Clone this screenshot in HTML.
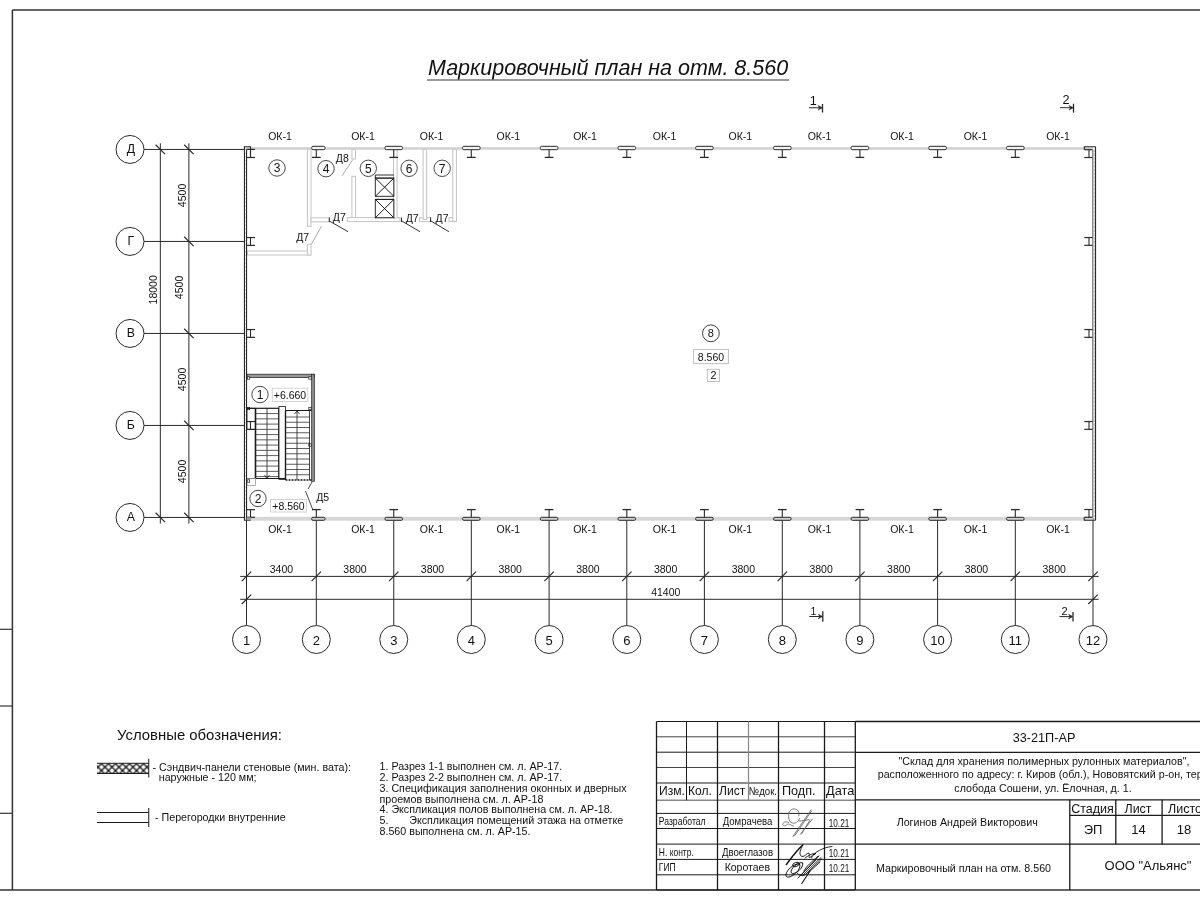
<!DOCTYPE html>
<html><head><meta charset="utf-8"><style>
html,body{margin:0;padding:0;background:#fff;width:1200px;height:900px;overflow:hidden}
svg{display:block;will-change:transform}
text{font-family:"Liberation Sans", sans-serif;fill:#111}
</style></head><body>
<svg width="1200" height="900" viewBox="0 0 1200 900">
<rect x="307.40" y="149.50" width="3.6" height="76.80" fill="#fff" stroke="#c4c4c4" stroke-width="1"/>
<rect x="311.00" y="217.80" width="18.30" height="4" fill="#fff" stroke="#c4c4c4" stroke-width="1"/>
<rect x="351.90" y="149.50" width="3.6" height="9.50" fill="#fff" stroke="#c4c4c4" stroke-width="1"/>
<rect x="351.90" y="176.30" width="3.6" height="43.50" fill="#fff" stroke="#c4c4c4" stroke-width="1"/>
<rect x="347.30" y="217.60" width="52.70" height="4" fill="#fff" stroke="#c4c4c4" stroke-width="1"/>
<rect x="393.50" y="149.50" width="3.6" height="68.50" fill="#fff" stroke="#c4c4c4" stroke-width="1"/>
<rect x="419.40" y="217.60" width="11.20" height="4" fill="#fff" stroke="#c4c4c4" stroke-width="1"/>
<rect x="423.10" y="149.50" width="3.6" height="70.10" fill="#fff" stroke="#c4c4c4" stroke-width="1"/>
<rect x="449.00" y="217.60" width="7.40" height="4" fill="#fff" stroke="#c4c4c4" stroke-width="1"/>
<rect x="452.80" y="149.50" width="3.6" height="72.00" fill="#fff" stroke="#c4c4c4" stroke-width="1"/>
<rect x="247.50" y="251.00" width="63.20" height="4" fill="#fff" stroke="#c4c4c4" stroke-width="1"/>
<rect x="307.40" y="244.30" width="3.6" height="10.70" fill="#fff" stroke="#c4c4c4" stroke-width="1"/>
<line x1="329.30" y1="217.50" x2="329.30" y2="222.00" stroke="#1a1a1a" stroke-width="0.9"/>
<line x1="401.50" y1="217.50" x2="401.50" y2="222.00" stroke="#1a1a1a" stroke-width="0.9"/>
<line x1="430.60" y1="217.50" x2="430.60" y2="222.00" stroke="#1a1a1a" stroke-width="0.9"/>
<line x1="329.30" y1="221.00" x2="348.00" y2="231.70" stroke="#1a1a1a" stroke-width="0.9"/>
<line x1="401.00" y1="220.50" x2="420.00" y2="231.70" stroke="#1a1a1a" stroke-width="0.9"/>
<line x1="430.00" y1="220.50" x2="448.90" y2="231.70" stroke="#1a1a1a" stroke-width="0.9"/>
<line x1="342.00" y1="175.70" x2="352.70" y2="159.70" stroke="#888" stroke-width="0.7"/>
<line x1="311.30" y1="244.30" x2="321.60" y2="226.00" stroke="#888" stroke-width="0.7"/>
<text x="339.30" y="221.00" font-size="10.5" text-anchor="middle" >Д7</text>
<text x="412.20" y="221.70" font-size="10.5" text-anchor="middle" >Д7</text>
<text x="442.00" y="221.70" font-size="10.5" text-anchor="middle" >Д7</text>
<text x="342.30" y="162.30" font-size="10.5" text-anchor="middle" >Д8</text>
<text x="302.70" y="241.00" font-size="10.5" text-anchor="middle" >Д7</text>
<circle cx="277.00" cy="168.00" r="8.2" fill="none" stroke="#1a1a1a" stroke-width="0.8"/>
<text x="277.00" y="172.20" font-size="12" text-anchor="middle" >3</text>
<circle cx="326.00" cy="168.70" r="8.2" fill="none" stroke="#1a1a1a" stroke-width="0.8"/>
<text x="326.00" y="172.90" font-size="12" text-anchor="middle" >4</text>
<circle cx="368.30" cy="168.30" r="8.2" fill="none" stroke="#1a1a1a" stroke-width="0.8"/>
<text x="368.30" y="172.50" font-size="12" text-anchor="middle" >5</text>
<circle cx="409.10" cy="168.30" r="8.2" fill="none" stroke="#1a1a1a" stroke-width="0.8"/>
<text x="409.10" y="172.50" font-size="12" text-anchor="middle" >6</text>
<circle cx="442.20" cy="168.30" r="8.2" fill="none" stroke="#1a1a1a" stroke-width="0.8"/>
<text x="442.20" y="172.50" font-size="12" text-anchor="middle" >7</text>
<line x1="375.30" y1="175.00" x2="393.90" y2="175.00" stroke="#1a1a1a" stroke-width="0.9"/>
<line x1="375.30" y1="178.10" x2="393.90" y2="178.10" stroke="#1a1a1a" stroke-width="0.9"/>
<rect x="375.3" y="178.1" width="18.6" height="18.2" fill="none" stroke="#1a1a1a" stroke-width="0.9"/>
<line x1="375.30" y1="178.10" x2="393.90" y2="196.30" stroke="#1a1a1a" stroke-width="1.0"/>
<line x1="393.90" y1="178.10" x2="375.30" y2="196.30" stroke="#1a1a1a" stroke-width="1.0"/>
<line x1="375.30" y1="199.40" x2="393.90" y2="199.40" stroke="#1a1a1a" stroke-width="0.9"/>
<rect x="375.3" y="199.4" width="18.6" height="18.4" fill="none" stroke="#1a1a1a" stroke-width="0.9"/>
<line x1="375.30" y1="199.40" x2="393.90" y2="217.80" stroke="#1a1a1a" stroke-width="1.0"/>
<line x1="393.90" y1="199.40" x2="375.30" y2="217.80" stroke="#1a1a1a" stroke-width="1.0"/>
<line x1="375.30" y1="175.00" x2="375.30" y2="178.10" stroke="#1a1a1a" stroke-width="0.9"/>
<rect x="247" y="374.2" width="67.5" height="3.3" fill="#999" stroke="#1a1a1a" stroke-width="0.7"/>
<rect x="311.5" y="374.2" width="3" height="107.3" fill="#8a8a8a" stroke="#1a1a1a" stroke-width="0.6"/>
<rect x="247.30" y="376.80" width="2.4" height="2.4" fill="#fff" stroke="#1a1a1a" stroke-width="0.7"/>
<rect x="308.80" y="376.80" width="2.4" height="2.4" fill="#fff" stroke="#1a1a1a" stroke-width="0.7"/>
<rect x="247.30" y="407.30" width="2.4" height="2.4" fill="#fff" stroke="#1a1a1a" stroke-width="0.7"/>
<rect x="308.80" y="407.30" width="2.4" height="2.4" fill="#fff" stroke="#1a1a1a" stroke-width="0.7"/>
<rect x="308.80" y="443.80" width="2.4" height="2.4" fill="#fff" stroke="#1a1a1a" stroke-width="0.7"/>
<rect x="247.30" y="479.80" width="2.4" height="2.4" fill="#fff" stroke="#1a1a1a" stroke-width="0.7"/>
<circle cx="260.00" cy="394.50" r="8.2" fill="none" stroke="#1a1a1a" stroke-width="0.8"/>
<text x="260.00" y="398.70" font-size="12" text-anchor="middle" >1</text>
<rect x="272.2" y="388.2" width="35.6" height="13.3" fill="none" stroke="#c8c8c8" stroke-width="0.8"/>
<text x="290.00" y="398.80" font-size="10.5" text-anchor="middle" >+6.660</text>
<line x1="247.00" y1="408.30" x2="279.00" y2="408.30" stroke="#1a1a1a" stroke-width="1.2"/>
<line x1="285.50" y1="410.50" x2="311.50" y2="410.50" stroke="#1a1a1a" stroke-width="1.0"/>
<line x1="255.50" y1="408.30" x2="255.50" y2="478.50" stroke="#1a1a1a" stroke-width="1.6"/>
<line x1="279.00" y1="408.30" x2="279.00" y2="478.50" stroke="#1a1a1a" stroke-width="1.6"/>
<line x1="255.50" y1="413.60" x2="279.00" y2="413.60" stroke="#333" stroke-width="0.8"/>
<line x1="255.50" y1="418.85" x2="279.00" y2="418.85" stroke="#333" stroke-width="0.8"/>
<line x1="255.50" y1="424.10" x2="279.00" y2="424.10" stroke="#333" stroke-width="0.8"/>
<line x1="255.50" y1="429.35" x2="279.00" y2="429.35" stroke="#333" stroke-width="0.8"/>
<line x1="255.50" y1="434.60" x2="279.00" y2="434.60" stroke="#333" stroke-width="0.8"/>
<line x1="255.50" y1="439.85" x2="279.00" y2="439.85" stroke="#333" stroke-width="0.8"/>
<line x1="255.50" y1="445.10" x2="279.00" y2="445.10" stroke="#333" stroke-width="0.8"/>
<line x1="255.50" y1="450.35" x2="279.00" y2="450.35" stroke="#333" stroke-width="0.8"/>
<line x1="255.50" y1="455.60" x2="279.00" y2="455.60" stroke="#333" stroke-width="0.8"/>
<line x1="255.50" y1="460.85" x2="279.00" y2="460.85" stroke="#333" stroke-width="0.8"/>
<line x1="255.50" y1="466.10" x2="279.00" y2="466.10" stroke="#333" stroke-width="0.8"/>
<line x1="255.50" y1="471.35" x2="279.00" y2="471.35" stroke="#333" stroke-width="0.8"/>
<line x1="255.50" y1="476.60" x2="279.00" y2="476.60" stroke="#333" stroke-width="0.8"/>
<line x1="267.00" y1="408.50" x2="267.00" y2="478.00" stroke="#333" stroke-width="0.9"/>
<path d="M264.5,475 L267,478.5 L269.5,475" fill="none" stroke="#1a1a1a" stroke-width="0.8"/>
<rect x="279" y="406.5" width="6.5" height="73" fill="#fff" stroke="#1a1a1a" stroke-width="0.8"/>
<line x1="285.50" y1="410.50" x2="285.50" y2="480.00" stroke="#1a1a1a" stroke-width="1.4"/>
<line x1="285.50" y1="417.00" x2="309.50" y2="417.00" stroke="#333" stroke-width="0.8"/>
<line x1="285.50" y1="422.25" x2="309.50" y2="422.25" stroke="#333" stroke-width="0.8"/>
<line x1="285.50" y1="427.50" x2="309.50" y2="427.50" stroke="#333" stroke-width="0.8"/>
<line x1="285.50" y1="432.75" x2="309.50" y2="432.75" stroke="#333" stroke-width="0.8"/>
<line x1="285.50" y1="438.00" x2="309.50" y2="438.00" stroke="#333" stroke-width="0.8"/>
<line x1="285.50" y1="443.25" x2="309.50" y2="443.25" stroke="#333" stroke-width="0.8"/>
<line x1="285.50" y1="448.50" x2="309.50" y2="448.50" stroke="#333" stroke-width="0.8"/>
<line x1="285.50" y1="453.75" x2="309.50" y2="453.75" stroke="#333" stroke-width="0.8"/>
<line x1="285.50" y1="459.00" x2="309.50" y2="459.00" stroke="#333" stroke-width="0.8"/>
<line x1="285.50" y1="464.25" x2="309.50" y2="464.25" stroke="#333" stroke-width="0.8"/>
<line x1="285.50" y1="469.50" x2="309.50" y2="469.50" stroke="#333" stroke-width="0.8"/>
<line x1="285.50" y1="474.75" x2="309.50" y2="474.75" stroke="#333" stroke-width="0.8"/>
<line x1="297.00" y1="411.00" x2="297.00" y2="480.00" stroke="#333" stroke-width="0.9"/>
<path d="M294.5,414 L297,411 L299.5,414" fill="none" stroke="#1a1a1a" stroke-width="0.8"/>
<line x1="285.5" y1="480" x2="311.5" y2="480" stroke="#1a1a1a" stroke-width="1.6" stroke-dasharray="2 1"/>
<line x1="247.00" y1="478.50" x2="285.50" y2="478.50" stroke="#1a1a1a" stroke-width="1.0"/>
<line x1="309.50" y1="410.50" x2="309.50" y2="480.00" stroke="#1a1a1a" stroke-width="0.8"/>
<rect x="247" y="408.3" width="8.5" height="21.2" fill="none" stroke="#1a1a1a" stroke-width="0.8"/>
<rect x="247" y="478.5" width="8.5" height="7" fill="none" stroke="#999" stroke-width="0.8"/>
<circle cx="258.00" cy="498.50" r="8.2" fill="none" stroke="#1a1a1a" stroke-width="0.8"/>
<text x="258.00" y="502.70" font-size="12" text-anchor="middle" >2</text>
<rect x="270.5" y="499.5" width="36" height="12.5" fill="none" stroke="#c8c8c8" stroke-width="0.8"/>
<text x="288.50" y="509.60" font-size="10.5" text-anchor="middle" >+8.560</text>
<line x1="312.00" y1="482.00" x2="308.00" y2="489.00" stroke="#1a1a1a" stroke-width="0.8"/>
<line x1="305.50" y1="491.00" x2="312.50" y2="509.00" stroke="#1a1a1a" stroke-width="0.8"/>
<text x="322.70" y="500.50" font-size="10.5" text-anchor="middle" >Д5</text>

<line x1="12.40" y1="9.90" x2="1200.00" y2="9.90" stroke="#333" stroke-width="1.5"/>
<line x1="12.40" y1="9.90" x2="12.40" y2="890.00" stroke="#333" stroke-width="1.5"/>
<line x1="0.00" y1="890.00" x2="1200.00" y2="890.00" stroke="#333" stroke-width="1.5"/>
<line x1="0.00" y1="629.30" x2="12.00" y2="629.30" stroke="#333" stroke-width="1.2"/>
<line x1="0.00" y1="706.00" x2="12.00" y2="706.00" stroke="#333" stroke-width="1.2"/>
<line x1="0.00" y1="813.30" x2="12.00" y2="813.30" stroke="#333" stroke-width="1.2"/>
<text x="428.00" y="75.30" font-size="21.5" text-anchor="start" font-style="italic">Маркировочный план на отм. 8.560</text>
<line x1="427.00" y1="80.00" x2="789.00" y2="80.00" stroke="#777" stroke-width="1.6"/>
<line x1="246.50" y1="518.00" x2="246.50" y2="625.50" stroke="#2a2a2a" stroke-width="1"/>
<circle cx="246.50" cy="639.5" r="14" fill="none" stroke="#2a2a2a" stroke-width="1"/>
<text x="246.50" y="644.70" font-size="13" text-anchor="middle" >1</text>
<line x1="316.30" y1="518.00" x2="316.30" y2="625.50" stroke="#2a2a2a" stroke-width="1"/>
<circle cx="316.30" cy="639.5" r="14" fill="none" stroke="#2a2a2a" stroke-width="1"/>
<text x="316.30" y="644.70" font-size="13" text-anchor="middle" >2</text>
<line x1="393.75" y1="518.00" x2="393.75" y2="625.50" stroke="#2a2a2a" stroke-width="1"/>
<circle cx="393.75" cy="639.5" r="14" fill="none" stroke="#2a2a2a" stroke-width="1"/>
<text x="393.75" y="644.70" font-size="13" text-anchor="middle" >3</text>
<line x1="471.30" y1="518.00" x2="471.30" y2="625.50" stroke="#2a2a2a" stroke-width="1"/>
<circle cx="471.30" cy="639.5" r="14" fill="none" stroke="#2a2a2a" stroke-width="1"/>
<text x="471.30" y="644.70" font-size="13" text-anchor="middle" >4</text>
<line x1="549.10" y1="518.00" x2="549.10" y2="625.50" stroke="#2a2a2a" stroke-width="1"/>
<circle cx="549.10" cy="639.5" r="14" fill="none" stroke="#2a2a2a" stroke-width="1"/>
<text x="549.10" y="644.70" font-size="13" text-anchor="middle" >5</text>
<line x1="626.80" y1="518.00" x2="626.80" y2="625.50" stroke="#2a2a2a" stroke-width="1"/>
<circle cx="626.80" cy="639.5" r="14" fill="none" stroke="#2a2a2a" stroke-width="1"/>
<text x="626.80" y="644.70" font-size="13" text-anchor="middle" >6</text>
<line x1="704.40" y1="518.00" x2="704.40" y2="625.50" stroke="#2a2a2a" stroke-width="1"/>
<circle cx="704.40" cy="639.5" r="14" fill="none" stroke="#2a2a2a" stroke-width="1"/>
<text x="704.40" y="644.70" font-size="13" text-anchor="middle" >7</text>
<line x1="782.30" y1="518.00" x2="782.30" y2="625.50" stroke="#2a2a2a" stroke-width="1"/>
<circle cx="782.30" cy="639.5" r="14" fill="none" stroke="#2a2a2a" stroke-width="1"/>
<text x="782.30" y="644.70" font-size="13" text-anchor="middle" >8</text>
<line x1="859.90" y1="518.00" x2="859.90" y2="625.50" stroke="#2a2a2a" stroke-width="1"/>
<circle cx="859.90" cy="639.5" r="14" fill="none" stroke="#2a2a2a" stroke-width="1"/>
<text x="859.90" y="644.70" font-size="13" text-anchor="middle" >9</text>
<line x1="937.60" y1="518.00" x2="937.60" y2="625.50" stroke="#2a2a2a" stroke-width="1"/>
<circle cx="937.60" cy="639.5" r="14" fill="none" stroke="#2a2a2a" stroke-width="1"/>
<text x="937.60" y="644.70" font-size="13" text-anchor="middle" >10</text>
<line x1="1015.30" y1="518.00" x2="1015.30" y2="625.50" stroke="#2a2a2a" stroke-width="1"/>
<circle cx="1015.30" cy="639.5" r="14" fill="none" stroke="#2a2a2a" stroke-width="1"/>
<text x="1015.30" y="644.70" font-size="13" text-anchor="middle" >11</text>
<line x1="1093.00" y1="518.00" x2="1093.00" y2="625.50" stroke="#2a2a2a" stroke-width="1"/>
<circle cx="1093.00" cy="639.5" r="14" fill="none" stroke="#2a2a2a" stroke-width="1"/>
<text x="1093.00" y="644.70" font-size="13" text-anchor="middle" >12</text>
<line x1="144.00" y1="149.44" x2="245.00" y2="149.44" stroke="#2a2a2a" stroke-width="1"/>
<circle cx="130" cy="149.44" r="14" fill="none" stroke="#2a2a2a" stroke-width="1"/>
<text x="130.90" y="153.04" font-size="12.3" text-anchor="middle" >Д</text>
<line x1="144.00" y1="241.44" x2="245.00" y2="241.44" stroke="#2a2a2a" stroke-width="1"/>
<circle cx="130" cy="241.44" r="14" fill="none" stroke="#2a2a2a" stroke-width="1"/>
<text x="130.90" y="245.04" font-size="12.3" text-anchor="middle" >Г</text>
<line x1="144.00" y1="333.44" x2="245.00" y2="333.44" stroke="#2a2a2a" stroke-width="1"/>
<circle cx="130" cy="333.44" r="14" fill="none" stroke="#2a2a2a" stroke-width="1"/>
<text x="130.90" y="337.04" font-size="12.3" text-anchor="middle" >В</text>
<line x1="144.00" y1="425.44" x2="245.00" y2="425.44" stroke="#2a2a2a" stroke-width="1"/>
<circle cx="130" cy="425.44" r="14" fill="none" stroke="#2a2a2a" stroke-width="1"/>
<text x="130.90" y="429.04" font-size="12.3" text-anchor="middle" >Б</text>
<line x1="144.00" y1="517.44" x2="245.00" y2="517.44" stroke="#2a2a2a" stroke-width="1"/>
<circle cx="130" cy="517.44" r="14" fill="none" stroke="#2a2a2a" stroke-width="1"/>
<text x="130.90" y="521.04" font-size="12.3" text-anchor="middle" >А</text>
<line x1="240.20" y1="576.40" x2="1098.70" y2="576.40" stroke="#2a2a2a" stroke-width="1"/>
<line x1="240.20" y1="599.30" x2="1098.70" y2="599.30" stroke="#2a2a2a" stroke-width="1"/>
<line x1="241.80" y1="581.10" x2="251.20" y2="571.70" stroke="#2a2a2a" stroke-width="1.2"/>
<line x1="311.60" y1="581.10" x2="321.00" y2="571.70" stroke="#2a2a2a" stroke-width="1.2"/>
<line x1="389.05" y1="581.10" x2="398.45" y2="571.70" stroke="#2a2a2a" stroke-width="1.2"/>
<line x1="466.60" y1="581.10" x2="476.00" y2="571.70" stroke="#2a2a2a" stroke-width="1.2"/>
<line x1="544.40" y1="581.10" x2="553.80" y2="571.70" stroke="#2a2a2a" stroke-width="1.2"/>
<line x1="622.10" y1="581.10" x2="631.50" y2="571.70" stroke="#2a2a2a" stroke-width="1.2"/>
<line x1="699.70" y1="581.10" x2="709.10" y2="571.70" stroke="#2a2a2a" stroke-width="1.2"/>
<line x1="777.60" y1="581.10" x2="787.00" y2="571.70" stroke="#2a2a2a" stroke-width="1.2"/>
<line x1="855.20" y1="581.10" x2="864.60" y2="571.70" stroke="#2a2a2a" stroke-width="1.2"/>
<line x1="932.90" y1="581.10" x2="942.30" y2="571.70" stroke="#2a2a2a" stroke-width="1.2"/>
<line x1="1010.60" y1="581.10" x2="1020.00" y2="571.70" stroke="#2a2a2a" stroke-width="1.2"/>
<line x1="1088.30" y1="581.10" x2="1097.70" y2="571.70" stroke="#2a2a2a" stroke-width="1.2"/>
<line x1="241.80" y1="604.00" x2="251.20" y2="594.60" stroke="#2a2a2a" stroke-width="1.2"/>
<line x1="1088.30" y1="604.00" x2="1097.70" y2="594.60" stroke="#2a2a2a" stroke-width="1.2"/>
<text x="281.40" y="573.00" font-size="10.5" text-anchor="middle" >3400</text>
<text x="355.02" y="573.00" font-size="10.5" text-anchor="middle" >3800</text>
<text x="432.52" y="573.00" font-size="10.5" text-anchor="middle" >3800</text>
<text x="510.20" y="573.00" font-size="10.5" text-anchor="middle" >3800</text>
<text x="587.95" y="573.00" font-size="10.5" text-anchor="middle" >3800</text>
<text x="665.60" y="573.00" font-size="10.5" text-anchor="middle" >3800</text>
<text x="743.35" y="573.00" font-size="10.5" text-anchor="middle" >3800</text>
<text x="821.10" y="573.00" font-size="10.5" text-anchor="middle" >3800</text>
<text x="898.75" y="573.00" font-size="10.5" text-anchor="middle" >3800</text>
<text x="976.45" y="573.00" font-size="10.5" text-anchor="middle" >3800</text>
<text x="1054.15" y="573.00" font-size="10.5" text-anchor="middle" >3800</text>
<text x="665.80" y="596.00" font-size="10.5" text-anchor="middle" >41400</text>
<line x1="160.33" y1="143.30" x2="160.33" y2="523.60" stroke="#2a2a2a" stroke-width="1"/>
<line x1="188.90" y1="143.30" x2="188.90" y2="523.60" stroke="#2a2a2a" stroke-width="1"/>
<line x1="155.63" y1="144.74" x2="165.03" y2="154.14" stroke="#2a2a2a" stroke-width="1.2"/>
<line x1="155.63" y1="512.74" x2="165.03" y2="522.14" stroke="#2a2a2a" stroke-width="1.2"/>
<line x1="184.20" y1="144.74" x2="193.60" y2="154.14" stroke="#2a2a2a" stroke-width="1.2"/>
<line x1="184.20" y1="236.74" x2="193.60" y2="246.14" stroke="#2a2a2a" stroke-width="1.2"/>
<line x1="184.20" y1="328.74" x2="193.60" y2="338.14" stroke="#2a2a2a" stroke-width="1.2"/>
<line x1="184.20" y1="420.74" x2="193.60" y2="430.14" stroke="#2a2a2a" stroke-width="1.2"/>
<line x1="184.20" y1="512.74" x2="193.60" y2="522.14" stroke="#2a2a2a" stroke-width="1.2"/>
<text x="186" y="195.44" font-size="10.5" text-anchor="middle" transform="rotate(-90 186 195.44)">4500</text>
<text x="183.3" y="287.44" font-size="10.5" text-anchor="middle" transform="rotate(-90 183.3 287.44)">4500</text>
<text x="186" y="379.44" font-size="10.5" text-anchor="middle" transform="rotate(-90 186 379.44)">4500</text>
<text x="186" y="471.44" font-size="10.5" text-anchor="middle" transform="rotate(-90 186 471.44)">4500</text>
<text x="157.5" y="289.8" font-size="10.5" text-anchor="middle" transform="rotate(-90 157.5 289.8)">18000</text>
<rect x="246.5" y="147.2" width="846.5" height="2.5" fill="#d0d0d0"/>
<rect x="246.5" y="516.8" width="846.5" height="3.9" fill="#d6d6d6"/>
<line x1="244.50" y1="146.70" x2="244.50" y2="519.50" stroke="#2a2a2a" stroke-width="1.2"/>
<line x1="246.50" y1="149.50" x2="246.50" y2="519.50" stroke="#2a2a2a" stroke-width="1.2"/>
<line x1="245.5" y1="150" x2="245.5" y2="519" stroke="#fff" stroke-width="0.9" stroke-dasharray="2.2 1.6"/>
<path d="M244.5,150 V146.7 H250.5 V157.5" fill="none" stroke="#2a2a2a" stroke-width="1.1"/>
<path d="M244.5,517 V520.2 H250.7" fill="none" stroke="#2a2a2a" stroke-width="1.1"/>
<line x1="1095.50" y1="146.70" x2="1095.50" y2="520.20" stroke="#2a2a2a" stroke-width="1.2"/>
<line x1="1092.80" y1="149.70" x2="1092.80" y2="517.50" stroke="#7a7a7a" stroke-width="1.3"/>
<line x1="1094.2" y1="150" x2="1094.2" y2="518" stroke="#b0b0b0" stroke-width="0.9" stroke-dasharray="2.2 1.6"/>
<path d="M1084.3,149.7 V146.7 H1095.5" fill="none" stroke="#2a2a2a" stroke-width="1.1"/>
<path d="M1084.3,517.3 V520.2 H1095.5" fill="none" stroke="#2a2a2a" stroke-width="1.1"/>
<rect x="311.70" y="146.3" width="13.3" height="3.4" rx="1.2" fill="#f2f2f2" stroke="#2a2a2a" stroke-width="1"/>
<line x1="316.30" y1="149.70" x2="316.30" y2="157.40" stroke="#2a2a2a" stroke-width="1.1"/>
<line x1="311.95" y1="157.40" x2="320.65" y2="157.40" stroke="#2a2a2a" stroke-width="1.3"/>
<rect x="311.70" y="517.3" width="13.3" height="3.0" rx="1.2" fill="#cfcfcf" stroke="#2a2a2a" stroke-width="1"/>
<line x1="316.30" y1="509.60" x2="316.30" y2="517.30" stroke="#2a2a2a" stroke-width="1.1"/>
<line x1="311.95" y1="509.60" x2="320.65" y2="509.60" stroke="#2a2a2a" stroke-width="1.3"/>
<rect x="385.00" y="146.3" width="17.5" height="3.4" rx="1.2" fill="#f2f2f2" stroke="#2a2a2a" stroke-width="1"/>
<line x1="393.75" y1="149.70" x2="393.75" y2="157.40" stroke="#2a2a2a" stroke-width="1.1"/>
<line x1="389.40" y1="157.40" x2="398.10" y2="157.40" stroke="#2a2a2a" stroke-width="1.3"/>
<rect x="385.00" y="517.3" width="17.5" height="3.0" rx="1.2" fill="#cfcfcf" stroke="#2a2a2a" stroke-width="1"/>
<line x1="393.75" y1="509.60" x2="393.75" y2="517.30" stroke="#2a2a2a" stroke-width="1.1"/>
<line x1="389.40" y1="509.60" x2="398.10" y2="509.60" stroke="#2a2a2a" stroke-width="1.3"/>
<rect x="462.55" y="146.3" width="17.5" height="3.4" rx="1.2" fill="#f2f2f2" stroke="#2a2a2a" stroke-width="1"/>
<line x1="471.30" y1="149.70" x2="471.30" y2="157.40" stroke="#2a2a2a" stroke-width="1.1"/>
<line x1="466.95" y1="157.40" x2="475.65" y2="157.40" stroke="#2a2a2a" stroke-width="1.3"/>
<rect x="462.55" y="517.3" width="17.5" height="3.0" rx="1.2" fill="#cfcfcf" stroke="#2a2a2a" stroke-width="1"/>
<line x1="471.30" y1="509.60" x2="471.30" y2="517.30" stroke="#2a2a2a" stroke-width="1.1"/>
<line x1="466.95" y1="509.60" x2="475.65" y2="509.60" stroke="#2a2a2a" stroke-width="1.3"/>
<rect x="540.35" y="146.3" width="17.5" height="3.4" rx="1.2" fill="#f2f2f2" stroke="#2a2a2a" stroke-width="1"/>
<line x1="549.10" y1="149.70" x2="549.10" y2="157.40" stroke="#2a2a2a" stroke-width="1.1"/>
<line x1="544.75" y1="157.40" x2="553.45" y2="157.40" stroke="#2a2a2a" stroke-width="1.3"/>
<rect x="540.35" y="517.3" width="17.5" height="3.0" rx="1.2" fill="#cfcfcf" stroke="#2a2a2a" stroke-width="1"/>
<line x1="549.10" y1="509.60" x2="549.10" y2="517.30" stroke="#2a2a2a" stroke-width="1.1"/>
<line x1="544.75" y1="509.60" x2="553.45" y2="509.60" stroke="#2a2a2a" stroke-width="1.3"/>
<rect x="618.05" y="146.3" width="17.5" height="3.4" rx="1.2" fill="#f2f2f2" stroke="#2a2a2a" stroke-width="1"/>
<line x1="626.80" y1="149.70" x2="626.80" y2="157.40" stroke="#2a2a2a" stroke-width="1.1"/>
<line x1="622.45" y1="157.40" x2="631.15" y2="157.40" stroke="#2a2a2a" stroke-width="1.3"/>
<rect x="618.05" y="517.3" width="17.5" height="3.0" rx="1.2" fill="#cfcfcf" stroke="#2a2a2a" stroke-width="1"/>
<line x1="626.80" y1="509.60" x2="626.80" y2="517.30" stroke="#2a2a2a" stroke-width="1.1"/>
<line x1="622.45" y1="509.60" x2="631.15" y2="509.60" stroke="#2a2a2a" stroke-width="1.3"/>
<rect x="695.65" y="146.3" width="17.5" height="3.4" rx="1.2" fill="#f2f2f2" stroke="#2a2a2a" stroke-width="1"/>
<line x1="704.40" y1="149.70" x2="704.40" y2="157.40" stroke="#2a2a2a" stroke-width="1.1"/>
<line x1="700.05" y1="157.40" x2="708.75" y2="157.40" stroke="#2a2a2a" stroke-width="1.3"/>
<rect x="695.65" y="517.3" width="17.5" height="3.0" rx="1.2" fill="#cfcfcf" stroke="#2a2a2a" stroke-width="1"/>
<line x1="704.40" y1="509.60" x2="704.40" y2="517.30" stroke="#2a2a2a" stroke-width="1.1"/>
<line x1="700.05" y1="509.60" x2="708.75" y2="509.60" stroke="#2a2a2a" stroke-width="1.3"/>
<rect x="773.55" y="146.3" width="17.5" height="3.4" rx="1.2" fill="#f2f2f2" stroke="#2a2a2a" stroke-width="1"/>
<line x1="782.30" y1="149.70" x2="782.30" y2="157.40" stroke="#2a2a2a" stroke-width="1.1"/>
<line x1="777.95" y1="157.40" x2="786.65" y2="157.40" stroke="#2a2a2a" stroke-width="1.3"/>
<rect x="773.55" y="517.3" width="17.5" height="3.0" rx="1.2" fill="#cfcfcf" stroke="#2a2a2a" stroke-width="1"/>
<line x1="782.30" y1="509.60" x2="782.30" y2="517.30" stroke="#2a2a2a" stroke-width="1.1"/>
<line x1="777.95" y1="509.60" x2="786.65" y2="509.60" stroke="#2a2a2a" stroke-width="1.3"/>
<rect x="851.15" y="146.3" width="17.5" height="3.4" rx="1.2" fill="#f2f2f2" stroke="#2a2a2a" stroke-width="1"/>
<line x1="859.90" y1="149.70" x2="859.90" y2="157.40" stroke="#2a2a2a" stroke-width="1.1"/>
<line x1="855.55" y1="157.40" x2="864.25" y2="157.40" stroke="#2a2a2a" stroke-width="1.3"/>
<rect x="851.15" y="517.3" width="17.5" height="3.0" rx="1.2" fill="#cfcfcf" stroke="#2a2a2a" stroke-width="1"/>
<line x1="859.90" y1="509.60" x2="859.90" y2="517.30" stroke="#2a2a2a" stroke-width="1.1"/>
<line x1="855.55" y1="509.60" x2="864.25" y2="509.60" stroke="#2a2a2a" stroke-width="1.3"/>
<rect x="928.85" y="146.3" width="17.5" height="3.4" rx="1.2" fill="#f2f2f2" stroke="#2a2a2a" stroke-width="1"/>
<line x1="937.60" y1="149.70" x2="937.60" y2="157.40" stroke="#2a2a2a" stroke-width="1.1"/>
<line x1="933.25" y1="157.40" x2="941.95" y2="157.40" stroke="#2a2a2a" stroke-width="1.3"/>
<rect x="928.85" y="517.3" width="17.5" height="3.0" rx="1.2" fill="#cfcfcf" stroke="#2a2a2a" stroke-width="1"/>
<line x1="937.60" y1="509.60" x2="937.60" y2="517.30" stroke="#2a2a2a" stroke-width="1.1"/>
<line x1="933.25" y1="509.60" x2="941.95" y2="509.60" stroke="#2a2a2a" stroke-width="1.3"/>
<rect x="1006.55" y="146.3" width="17.5" height="3.4" rx="1.2" fill="#f2f2f2" stroke="#2a2a2a" stroke-width="1"/>
<line x1="1015.30" y1="149.70" x2="1015.30" y2="157.40" stroke="#2a2a2a" stroke-width="1.1"/>
<line x1="1010.95" y1="157.40" x2="1019.65" y2="157.40" stroke="#2a2a2a" stroke-width="1.3"/>
<rect x="1006.55" y="517.3" width="17.5" height="3.0" rx="1.2" fill="#cfcfcf" stroke="#2a2a2a" stroke-width="1"/>
<line x1="1015.30" y1="509.60" x2="1015.30" y2="517.30" stroke="#2a2a2a" stroke-width="1.1"/>
<line x1="1010.95" y1="509.60" x2="1019.65" y2="509.60" stroke="#2a2a2a" stroke-width="1.3"/>
<line x1="246.50" y1="237.54" x2="255.00" y2="237.54" stroke="#2a2a2a" stroke-width="1.2"/>
<line x1="246.50" y1="245.34" x2="255.00" y2="245.34" stroke="#2a2a2a" stroke-width="1.2"/>
<line x1="250.50" y1="237.54" x2="250.50" y2="245.34" stroke="#2a2a2a" stroke-width="1.1"/>
<line x1="1084.30" y1="237.54" x2="1092.50" y2="237.54" stroke="#2a2a2a" stroke-width="1.2"/>
<line x1="1084.30" y1="245.34" x2="1092.50" y2="245.34" stroke="#2a2a2a" stroke-width="1.2"/>
<line x1="1089.00" y1="237.54" x2="1089.00" y2="245.34" stroke="#2a2a2a" stroke-width="1.1"/>
<line x1="246.50" y1="329.54" x2="255.00" y2="329.54" stroke="#2a2a2a" stroke-width="1.2"/>
<line x1="246.50" y1="337.34" x2="255.00" y2="337.34" stroke="#2a2a2a" stroke-width="1.2"/>
<line x1="250.50" y1="329.54" x2="250.50" y2="337.34" stroke="#2a2a2a" stroke-width="1.1"/>
<line x1="1084.30" y1="329.54" x2="1092.50" y2="329.54" stroke="#2a2a2a" stroke-width="1.2"/>
<line x1="1084.30" y1="337.34" x2="1092.50" y2="337.34" stroke="#2a2a2a" stroke-width="1.2"/>
<line x1="1089.00" y1="329.54" x2="1089.00" y2="337.34" stroke="#2a2a2a" stroke-width="1.1"/>
<line x1="246.50" y1="421.54" x2="255.00" y2="421.54" stroke="#2a2a2a" stroke-width="1.2"/>
<line x1="246.50" y1="429.34" x2="255.00" y2="429.34" stroke="#2a2a2a" stroke-width="1.2"/>
<line x1="250.50" y1="421.54" x2="250.50" y2="429.34" stroke="#2a2a2a" stroke-width="1.1"/>
<line x1="1084.30" y1="421.54" x2="1092.50" y2="421.54" stroke="#2a2a2a" stroke-width="1.2"/>
<line x1="1084.30" y1="429.34" x2="1092.50" y2="429.34" stroke="#2a2a2a" stroke-width="1.2"/>
<line x1="1089.00" y1="421.54" x2="1089.00" y2="429.34" stroke="#2a2a2a" stroke-width="1.1"/>
<line x1="246.50" y1="149.40" x2="255.00" y2="149.40" stroke="#2a2a2a" stroke-width="1.2"/>
<line x1="246.50" y1="157.50" x2="255.00" y2="157.50" stroke="#2a2a2a" stroke-width="1.2"/>
<line x1="250.50" y1="149.40" x2="250.50" y2="157.50" stroke="#2a2a2a" stroke-width="1.1"/>
<line x1="246.50" y1="509.70" x2="255.00" y2="509.70" stroke="#2a2a2a" stroke-width="1.2"/>
<line x1="246.50" y1="517.30" x2="255.00" y2="517.30" stroke="#2a2a2a" stroke-width="1.2"/>
<line x1="250.50" y1="509.70" x2="250.50" y2="517.30" stroke="#2a2a2a" stroke-width="1.1"/>
<line x1="1084.30" y1="149.70" x2="1092.50" y2="149.70" stroke="#2a2a2a" stroke-width="1.2"/>
<line x1="1084.30" y1="157.50" x2="1092.50" y2="157.50" stroke="#2a2a2a" stroke-width="1.2"/>
<line x1="1089.00" y1="149.70" x2="1089.00" y2="157.50" stroke="#2a2a2a" stroke-width="1.1"/>
<line x1="1084.30" y1="509.50" x2="1092.50" y2="509.50" stroke="#2a2a2a" stroke-width="1.2"/>
<line x1="1084.30" y1="517.30" x2="1092.50" y2="517.30" stroke="#2a2a2a" stroke-width="1.2"/>
<line x1="1089.00" y1="509.50" x2="1089.00" y2="517.30" stroke="#2a2a2a" stroke-width="1.1"/>
<rect x="246.5" y="517.3" width="4.2" height="2.9" fill="#999"/>
<text x="280.00" y="140.30" font-size="10.5" text-anchor="middle" >ОК-1</text>
<text x="280.00" y="533.20" font-size="10.5" text-anchor="middle" >ОК-1</text>
<text x="363.00" y="140.30" font-size="10.5" text-anchor="middle" >ОК-1</text>
<text x="363.00" y="533.20" font-size="10.5" text-anchor="middle" >ОК-1</text>
<text x="431.60" y="140.30" font-size="10.5" text-anchor="middle" >ОК-1</text>
<text x="431.60" y="533.20" font-size="10.5" text-anchor="middle" >ОК-1</text>
<text x="508.40" y="140.30" font-size="10.5" text-anchor="middle" >ОК-1</text>
<text x="508.40" y="533.20" font-size="10.5" text-anchor="middle" >ОК-1</text>
<text x="585.00" y="140.30" font-size="10.5" text-anchor="middle" >ОК-1</text>
<text x="585.00" y="533.20" font-size="10.5" text-anchor="middle" >ОК-1</text>
<text x="664.60" y="140.30" font-size="10.5" text-anchor="middle" >ОК-1</text>
<text x="664.60" y="533.20" font-size="10.5" text-anchor="middle" >ОК-1</text>
<text x="740.30" y="140.30" font-size="10.5" text-anchor="middle" >ОК-1</text>
<text x="740.30" y="533.20" font-size="10.5" text-anchor="middle" >ОК-1</text>
<text x="819.50" y="140.30" font-size="10.5" text-anchor="middle" >ОК-1</text>
<text x="819.50" y="533.20" font-size="10.5" text-anchor="middle" >ОК-1</text>
<text x="902.00" y="140.30" font-size="10.5" text-anchor="middle" >ОК-1</text>
<text x="902.00" y="533.20" font-size="10.5" text-anchor="middle" >ОК-1</text>
<text x="975.50" y="140.30" font-size="10.5" text-anchor="middle" >ОК-1</text>
<text x="975.50" y="533.20" font-size="10.5" text-anchor="middle" >ОК-1</text>
<text x="1058.00" y="140.30" font-size="10.5" text-anchor="middle" >ОК-1</text>
<text x="1058.00" y="533.20" font-size="10.5" text-anchor="middle" >ОК-1</text>
<text x="813.30" y="104.75" font-size="12.7" text-anchor="middle" >1</text>
<line x1="809.00" y1="107.75" x2="821.50" y2="107.75" stroke="#2a2a2a" stroke-width="1.0"/>
<path d="M818.0,105.45 L822.5,107.75 L818.0,110.05 L819.5,107.75 Z" fill="#2a2a2a" stroke="#2a2a2a" stroke-width="0.5"/>
<line x1="822.50" y1="104.00" x2="822.50" y2="112.50" stroke="#2a2a2a" stroke-width="1.3"/>
<text x="1066.00" y="103.70" font-size="12.7" text-anchor="middle" >2</text>
<line x1="1060.00" y1="107.70" x2="1072.50" y2="107.70" stroke="#2a2a2a" stroke-width="1.0"/>
<path d="M1069.0,105.4 L1073.5,107.7 L1069.0,110.0 L1070.5,107.7 Z" fill="#2a2a2a" stroke="#2a2a2a" stroke-width="0.5"/>
<line x1="1073.50" y1="103.70" x2="1073.50" y2="112.70" stroke="#2a2a2a" stroke-width="1.3"/>
<text x="813.30" y="614.80" font-size="10.5" text-anchor="middle" >1</text>
<line x1="809.30" y1="616.50" x2="821.80" y2="616.50" stroke="#2a2a2a" stroke-width="1.0"/>
<path d="M818.3,614.2 L822.8,616.5 L818.3,618.8 L819.8,616.5 Z" fill="#2a2a2a" stroke="#2a2a2a" stroke-width="0.5"/>
<line x1="822.80" y1="611.30" x2="822.80" y2="621.70" stroke="#2a2a2a" stroke-width="1.3"/>
<text x="1064.50" y="614.50" font-size="11" text-anchor="middle" >2</text>
<line x1="1059.50" y1="616.60" x2="1072.00" y2="616.60" stroke="#2a2a2a" stroke-width="1.0"/>
<path d="M1068.5,614.3000000000001 L1073,616.6 L1068.5,618.9 L1070,616.6 Z" fill="#2a2a2a" stroke="#2a2a2a" stroke-width="0.5"/>
<line x1="1073.00" y1="612.00" x2="1073.00" y2="621.50" stroke="#2a2a2a" stroke-width="1.3"/>
<circle cx="710.9" cy="333.3" r="8.4" fill="none" stroke="#2a2a2a" stroke-width="0.9"/>
<text x="710.90" y="337.30" font-size="11" text-anchor="middle" >8</text>
<rect x="693.6" y="349.4" width="34.9" height="14.2" fill="none" stroke="#bbb" stroke-width="0.9"/>
<text x="711.00" y="360.50" font-size="10.5" text-anchor="middle" >8.560</text>
<rect x="707.3" y="369.3" width="12.2" height="12.2" fill="none" stroke="#bbb" stroke-width="0.9"/>
<text x="713.40" y="379.20" font-size="10.8" text-anchor="middle" >2</text>


<text x="117.00" y="740.00" font-size="14.9" text-anchor="start" >Условные обозначения:</text>
<defs><pattern id="hx" x="94.5" y="763.6" width="7" height="7" patternUnits="userSpaceOnUse"><path d="M-1,-1 L8,8 M8,-1 L-1,8" stroke="#111" stroke-width="1.25"/></pattern></defs>
<rect x="97" y="763.3" width="51.5" height="10.2" fill="url(#hx)"/>
<line x1="97.00" y1="763.30" x2="148.75" y2="763.30" stroke="#1a1a1a" stroke-width="1"/>
<line x1="97.00" y1="773.50" x2="148.75" y2="773.50" stroke="#1a1a1a" stroke-width="1"/>
<line x1="148.75" y1="758.75" x2="148.75" y2="777.50" stroke="#1a1a1a" stroke-width="1"/>
<text x="152.50" y="770.50" font-size="10.7" text-anchor="start" >- Сэндвич-панели стеновые (мин. вата):</text>
<text x="158.75" y="780.50" font-size="10.7" text-anchor="start" >наружные - 120 мм;</text>
<line x1="97.00" y1="812.50" x2="148.75" y2="812.50" stroke="#1a1a1a" stroke-width="1"/>
<line x1="97.00" y1="822.50" x2="148.75" y2="822.50" stroke="#1a1a1a" stroke-width="1"/>
<line x1="148.75" y1="808.00" x2="148.75" y2="827.00" stroke="#1a1a1a" stroke-width="1"/>
<text x="155.00" y="820.50" font-size="10.7" text-anchor="start" >- Перегородки внутренние</text>
<text x="379.50" y="770.00" font-size="10.7" text-anchor="start" xml:space="preserve">1. Разрез 1-1 выполнен см. л. АР-17.</text>
<text x="379.50" y="781.25" font-size="10.7" text-anchor="start" xml:space="preserve">2. Разрез 2-2 выполнен см. л. АР-17.</text>
<text x="379.50" y="792.00" font-size="10.7" text-anchor="start" xml:space="preserve">3. Спецификация заполнения оконных и дверных</text>
<text x="379.50" y="802.50" font-size="10.7" text-anchor="start" xml:space="preserve">проемов выполнена см. л. АР-18</text>
<text x="379.50" y="813.00" font-size="10.7" text-anchor="start" xml:space="preserve">4. Экспликация полов выполнена см. л. АР-18.</text>
<text x="379.50" y="823.75" font-size="10.7" text-anchor="start" xml:space="preserve">5.&#160;&#160;&#160;&#160;&#160;&#160;&#160;Экспликация помещений этажа на отметке</text>
<text x="379.50" y="834.50" font-size="10.7" text-anchor="start" xml:space="preserve">8.560 выполнена см. л. АР-15.</text>
<line x1="656.50" y1="721.50" x2="855.30" y2="721.50" stroke="#1a1a1a" stroke-width="1.0"/>
<line x1="656.50" y1="736.80" x2="855.30" y2="736.80" stroke="#444" stroke-width="1.0"/>
<line x1="656.50" y1="752.20" x2="855.30" y2="752.20" stroke="#1a1a1a" stroke-width="1.0"/>
<line x1="656.50" y1="767.50" x2="855.30" y2="767.50" stroke="#444" stroke-width="1.0"/>
<line x1="656.50" y1="783.00" x2="855.30" y2="783.00" stroke="#1a1a1a" stroke-width="1.0"/>
<line x1="656.50" y1="800.30" x2="855.30" y2="800.30" stroke="#888" stroke-width="1.6"/>
<line x1="656.50" y1="813.40" x2="855.30" y2="813.40" stroke="#1a1a1a" stroke-width="1.0"/>
<line x1="656.50" y1="828.50" x2="855.30" y2="828.50" stroke="#1a1a1a" stroke-width="1.0"/>
<line x1="656.50" y1="844.10" x2="855.30" y2="844.10" stroke="#1a1a1a" stroke-width="1.0"/>
<line x1="656.50" y1="859.40" x2="855.30" y2="859.40" stroke="#1a1a1a" stroke-width="1.0"/>
<line x1="656.50" y1="874.80" x2="855.30" y2="874.80" stroke="#1a1a1a" stroke-width="1.0"/>
<line x1="656.50" y1="890.00" x2="855.30" y2="890.00" stroke="#1a1a1a" stroke-width="1.0"/>
<line x1="656.50" y1="721.50" x2="656.50" y2="890.00" stroke="#1a1a1a" stroke-width="1.3"/>
<line x1="717.50" y1="721.50" x2="717.50" y2="890.00" stroke="#1a1a1a" stroke-width="1.3"/>
<line x1="778.50" y1="721.50" x2="778.50" y2="890.00" stroke="#1a1a1a" stroke-width="1.3"/>
<line x1="824.50" y1="721.50" x2="824.50" y2="890.00" stroke="#1a1a1a" stroke-width="1.3"/>
<line x1="855.30" y1="721.50" x2="855.30" y2="890.00" stroke="#1a1a1a" stroke-width="1.3"/>
<line x1="686.50" y1="721.50" x2="686.50" y2="800.30" stroke="#1a1a1a" stroke-width="1.0"/>
<line x1="748.50" y1="721.50" x2="748.50" y2="800.30" stroke="#888" stroke-width="1.2"/>
<line x1="855.30" y1="721.50" x2="1200.00" y2="721.50" stroke="#1a1a1a" stroke-width="1.3"/>
<line x1="855.30" y1="752.30" x2="1200.00" y2="752.30" stroke="#1a1a1a" stroke-width="1.3"/>
<line x1="855.30" y1="799.80" x2="1200.00" y2="799.80" stroke="#1a1a1a" stroke-width="1.3"/>
<line x1="855.30" y1="844.20" x2="1200.00" y2="844.20" stroke="#1a1a1a" stroke-width="1.3"/>
<line x1="1069.80" y1="799.80" x2="1069.80" y2="890.00" stroke="#1a1a1a" stroke-width="1.3"/>
<line x1="1115.80" y1="799.80" x2="1115.80" y2="844.20" stroke="#1a1a1a" stroke-width="1.3"/>
<line x1="1162.10" y1="799.80" x2="1162.10" y2="844.20" stroke="#1a1a1a" stroke-width="1.3"/>
<line x1="1069.50" y1="815.40" x2="1200.00" y2="815.40" stroke="#1a1a1a" stroke-width="1.3"/>
<text transform="translate(659.00 795.00) scale(0.93 1)" font-size="13" text-anchor="start">Изм.</text>
<text transform="translate(688.00 795.00) scale(0.93 1)" font-size="13" text-anchor="start">Кол.</text>
<text transform="translate(719.00 795.00) scale(0.93 1)" font-size="13" text-anchor="start">Лист</text>
<text transform="translate(748.80 794.90) scale(0.84 1)" font-size="11.5" text-anchor="start">№док.</text>
<text transform="translate(781.90 795.00) scale(0.975 1)" font-size="13" text-anchor="start">Подп.</text>
<text transform="translate(826.00 795.00) scale(0.985 1)" font-size="13" text-anchor="start">Дата</text>
<text transform="translate(658.80 825.30) scale(0.86 1)" font-size="10" text-anchor="start">Разработал</text>
<text transform="translate(747.50 824.50) scale(0.96 1)" font-size="10" text-anchor="middle">Домрачева</text>
<text transform="translate(839.00 826.50) scale(0.78 1)" font-size="10.5" text-anchor="middle">10.21</text>
<text transform="translate(658.80 855.50) scale(0.85 1)" font-size="10" text-anchor="start">Н. контр.</text>
<text transform="translate(747.50 855.50) scale(0.96 1)" font-size="10" text-anchor="middle">Двоеглазов</text>
<text transform="translate(839.00 857.00) scale(0.78 1)" font-size="10.5" text-anchor="middle">10.21</text>
<text transform="translate(658.80 871.00) scale(0.86 1)" font-size="10" text-anchor="start">ГИП</text>
<text transform="translate(747.30 870.80) scale(1.0 1)" font-size="10.5" text-anchor="middle">Коротаев</text>
<text transform="translate(839.00 872.00) scale(0.78 1)" font-size="10.5" text-anchor="middle">10.21</text>
<text x="1044.00" y="742.00" font-size="12.7" text-anchor="middle" >33-21П-АР</text>
<text x="1044.00" y="765.40" font-size="10.7" text-anchor="middle" >"Склад для хранения полимерных рулонных материалов",</text>
<text x="877.70" y="777.60" font-size="10.7" text-anchor="start" >расположенного по адресу: г. Киров (обл.), Нововятский р-он, тер.</text>
<text x="1043.00" y="791.60" font-size="10.7" text-anchor="middle" >слобода Сошени, ул. Ёлочная, д. 1.</text>
<text x="967.20" y="825.90" font-size="10.7" text-anchor="middle" >Логинов Андрей Викторович</text>
<text x="963.50" y="872.30" font-size="10.7" text-anchor="middle" >Маркировочный план на отм. 8.560</text>
<text x="1148.00" y="870.30" font-size="13" text-anchor="middle" >ООО "Альянс"</text>
<text transform="translate(1092.50 812.50) scale(0.96 1)" font-size="13" text-anchor="middle">Стадия</text>
<text transform="translate(1138.00 812.50) scale(0.96 1)" font-size="13" text-anchor="middle">Лист</text>
<text transform="translate(1168.00 812.50) scale(0.96 1)" font-size="13" text-anchor="start">Листов</text>
<text x="1093.00" y="834.00" font-size="13" text-anchor="middle" >ЭП</text>
<text x="1138.50" y="834.00" font-size="13" text-anchor="middle" >14</text>
<text x="1184.00" y="834.00" font-size="13" text-anchor="middle" >18</text>
<g fill="none" stroke="#5a5a5a" stroke-width="0.8" stroke-linecap="round"><path d="M798.8,816 C800,810 796,808.6 793,809 C788,810 787.5,818 790,821.5 C792.5,824.5 798,823.5 799.5,818.5"/><path d="M788.5,822.5 C786,821 784,822 782.5,824 C783,826 785,826.5 787,824.5 C789,823 790.5,825.5 793.5,826"/><path d="M792.9,836.4 L811.1,809.8 M794.5,836 L811.5,811"/><path d="M800.4,834.2 L812.4,819.1 M801.5,834 L810,820"/><path d="M799,821 C803,820.5 806,820.5 809,819.5"/></g>
<g fill="none" stroke="#111" stroke-width="0.9" stroke-linecap="round"><path d="M786.4,864.4 C792,857 797,850 802.8,845" stroke-width="1.6"/><path d="M802,847 C799.5,851 799,855.5 802,856.5 C805,857 806.5,853 809,853 C810,855 808,858 810,857.5 C816,852 822,847.5 832,846.5"/><path d="M805,858 C808,856 812,853 816,853.5 C812,856 810,858 812,858"/><ellipse cx="793" cy="870.5" rx="9" ry="3.8" transform="rotate(-42 793 870.5)"/><ellipse cx="797" cy="868" rx="7.5" ry="3.2" transform="rotate(-42 797 868)"/><ellipse cx="796" cy="864.5" rx="3.5" ry="2" transform="rotate(-20 796 864.5)"/><path d="M800,876 L819,856 M803,875 L821,857.5 M806,874 L822,858.5 M798,878 L816,860 M808,873 L820,862 M804,871 C806,866 812,862 818,856"/><path d="M797,873 C801,877 804,876 806,874"/><path d="M801.8,883.5 L810,871" stroke-width="1.1"/></g>

</svg>
</body></html>
